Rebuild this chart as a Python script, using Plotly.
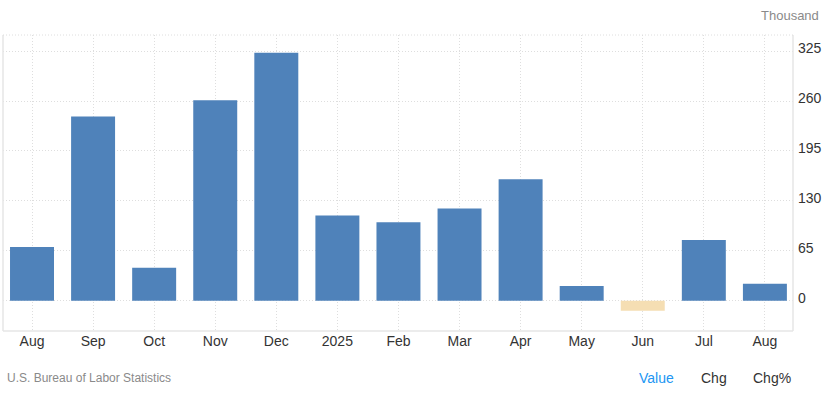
import plotly.graph_objects as go

months = ["Aug", "Sep", "Oct", "Nov", "Dec", "2025", "Feb", "Mar", "Apr", "May", "Jun", "Jul", "Aug"]
values = [70, 240, 43, 261, 323, 111, 102, 120, 158, 19, -13, 79, 22]
y_ticks = [0, 65, 130, 195, 260, 325]

POS = "#4F82BA"
NEG = "#F5DEB3"
colors = [POS if v >= 0 else NEG for v in values]
xs = list(range(len(months)))

GRID = "#dedede"
DASH = "1px,2px"

fig = go.Figure()
fig.add_trace(go.Bar(x=xs, y=values, marker=dict(color=colors, line=dict(width=0)),
                     width=0.72, hoverinfo="y"))

fig.update_layout(
    width=831, height=393,
    margin=dict(l=3, r=38, t=35, b=62, autoexpand=False),
    paper_bgcolor="white", plot_bgcolor="white",
    font=dict(family="Liberation Sans, Arial, sans-serif", size=14, color="#333333"),
    showlegend=False,
    xaxis=dict(
        tickmode="array", tickvals=xs, ticktext=months, automargin=False,
        range=[-0.475, 12.46], showgrid=True, gridcolor=GRID, griddash=DASH,
        gridwidth=1, zeroline=False, showline=False, ticks="", fixedrange=True,
        tickfont=dict(size=14, color="#333333"),
    ),
    yaxis=dict(
        side="right", tickmode="array", tickvals=y_ticks, automargin=False,
        range=[-39.5, 346], showgrid=True, gridcolor=GRID, griddash=DASH,
        gridwidth=1, zeroline=False, showline=False, ticks="", fixedrange=True,
        tickfont=dict(size=14, color="#333333"), ticklabelstandoff=4,
        ticklabelshift=-3,
    ),
    shapes=[
        dict(type="line", xref="paper", yref="paper", x0=0, x1=0, y0=0, y1=1,
             line=dict(color="#e6e6e6", width=1.5)),
        dict(type="line", xref="paper", yref="paper", x0=1, x1=1, y0=0, y1=1,
             line=dict(color="#e6e6e6", width=1.5)),
        dict(type="line", xref="paper", yref="paper", x0=0, x1=1, y0=0, y1=0,
             line=dict(color="#e6e6e6", width=1.5)),
        dict(type="line", xref="paper", yref="paper", x0=0, x1=1, y0=1, y1=1,
             line=dict(color=GRID, width=1, dash=DASH)),
    ],
    annotations=[
        dict(text="Thousand", xref="paper", yref="paper", x=1.036, y=1.0, yshift=20,
             xanchor="right", yanchor="middle", showarrow=False,
             font=dict(size=13, color="#8a8a8a")),
        dict(text="U.S. Bureau of Labor Statistics", xref="paper", yref="paper",
             x=0.003, y=0, yshift=-47, xanchor="left", yanchor="middle", showarrow=False,
             font=dict(size=12, color="#8a8a8a")),
        dict(text="Value", xref="paper", yref="paper", x=0.8025, y=0, yshift=-47,
             xanchor="left", yanchor="middle", showarrow=False,
             font=dict(size=14, color="#2196F3")),
        dict(text="Chg", xref="paper", yref="paper", x=0.8815, y=0, yshift=-47,
             xanchor="left", yanchor="middle", showarrow=False,
             font=dict(size=14, color="#333333")),
        dict(text="Chg%", xref="paper", yref="paper", x=0.9465, y=0, yshift=-47,
             xanchor="left", yanchor="middle", showarrow=False,
             font=dict(size=14, color="#333333")),
    ],
)

fig.write_html("out.html", config={"displayModeBar": False},
               post_script="document.body.style.margin='0';")
